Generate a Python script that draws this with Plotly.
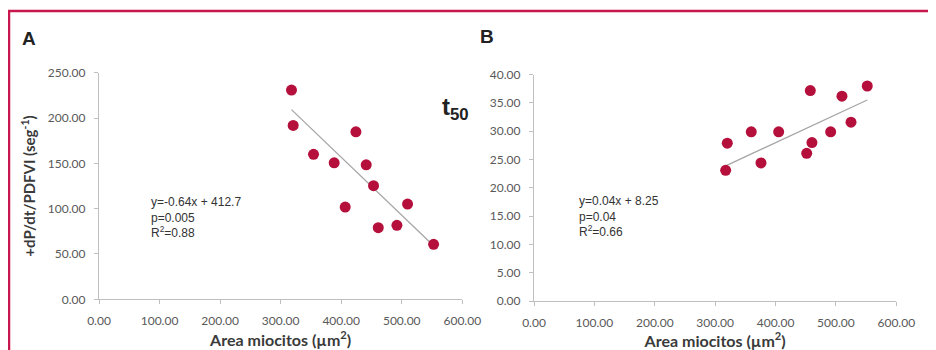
import plotly.graph_objects as go

# ---- data ----
area_a = [317.9, 320.7, 354.3, 388.4, 406.6, 424.3, 441.3, 453.4, 461.2, 492.0, 509.6, 552.6]
dpdt_a = [230.8, 191.8, 159.9, 150.6, 101.8, 184.8, 148.4, 125.3, 79.0, 81.6, 105.1, 60.6]

area_b = [317.4, 320.1, 359.8, 375.9, 405.2, 451.6, 457.6, 460.3, 491.3, 510.0, 525.0, 551.9]
t50_b = [23.1, 27.9, 29.9, 24.4, 29.9, 26.1, 37.2, 28.0, 29.9, 36.2, 31.6, 38.0]

trend_a = {"slope": -0.64, "intercept": 412.7}
trend_b = {"slope": 0.0497, "intercept": 8.1}

stats_a = ["y=-0.64x + 412.7", "p=0.005", "R<sup>2</sup>=0.88"]
stats_b = ["y=0.04x + 8.25", "p=0.04", "R<sup>2</sup>=0.66"]

x_ticks = [0, 100, 200, 300, 400, 500, 600]
y_ticks_a = [0, 50, 100, 150, 200, 250]
y_ticks_b = [0, 5, 10, 15, 20, 25, 30, 35, 40]

RED = "#B5103C"
BORDER = "#C8164E"
AXIS = "#BFBFBF"
TICKC = "#595959"

fig = go.Figure()

def trend_pts(xs, tr):
    x0, x1 = min(xs), max(xs)
    return [x0, x1], [tr["slope"] * x0 + tr["intercept"], tr["slope"] * x1 + tr["intercept"]]

tx, ty = trend_pts(area_a, trend_a)
fig.add_trace(go.Scatter(x=tx, y=ty, mode="lines", line=dict(color="#A6A6A6", width=1.3),
                         xaxis="x", yaxis="y", showlegend=False, hoverinfo="skip"))
fig.add_trace(go.Scatter(x=area_a, y=dpdt_a, mode="markers",
                         marker=dict(color=RED, size=11, line=dict(width=0)),
                         xaxis="x", yaxis="y", showlegend=False))

tx, ty = trend_pts(area_b, trend_b)
fig.add_trace(go.Scatter(x=tx, y=ty, mode="lines", line=dict(color="#A6A6A6", width=1.3),
                         xaxis="x2", yaxis="y2", showlegend=False, hoverinfo="skip"))
fig.add_trace(go.Scatter(x=area_b, y=t50_b, mode="markers",
                         marker=dict(color=RED, size=11, line=dict(width=0)),
                         xaxis="x2", yaxis="y2", showlegend=False))

# page body has an 8px margin; figure fills the rest of the 936x350 window
OFF = 8
W, H = 936 - OFF, 350 - OFF

def px_x(p):
    return (p - OFF) / W

def px_y(p):
    return (H - (p - OFF)) / H

tickfont = dict(family="Lato, Calibri, sans-serif", size=12, color=TICKC)
titlefont = dict(family="Lato, Calibri, sans-serif", size=16, color="#3A3A3A")

def xaxis(domain, anchor):
    return dict(domain=domain, anchor=anchor, range=[0, 600], tickvals=x_ticks,
                ticktext=[f"{v:.2f}" for v in x_ticks], showgrid=False, zeroline=False,
                showline=True, linecolor=AXIS, linewidth=1.3, ticks="outside",
                ticklen=4, tickcolor=AXIS, tickfont=tickfont, ticklabelstandoff=6,
                automargin=False, fixedrange=True,
                title=dict(text="<b>Area miocitos (µm<sup>2</sup>)</b>", font=titlefont, standoff=4))

def yaxis(domain, anchor, rng, vals, title=None):
    d = dict(domain=domain, anchor=anchor, range=rng, tickvals=vals,
             ticktext=[f"{v:.2f}" for v in vals], showgrid=False, zeroline=False,
             showline=True, linecolor=AXIS, linewidth=1.3, ticks="outside",
             ticklen=4, tickcolor=AXIS, tickfont=tickfont, ticklabelstandoff=6,
             automargin=False, fixedrange=True)
    if title:
        d["title"] = dict(text=title, font=dict(family="Lato, Calibri, sans-serif", size=15, color="#3A3A3A"),
                          standoff=8)
    return d

fig.update_layout(
    width=W, height=H, autosize=False,
    margin=dict(l=0, r=0, t=0, b=0),
    paper_bgcolor="white", plot_bgcolor="white",
    template="none",
    xaxis=xaxis([px_x(99), px_x(462.3)], "y"),
    yaxis=yaxis([px_y(299.3), px_y(72.7)], "x", [0, 250], y_ticks_a,
                "<b>+dP/dt/PDFVI (seg<sup>-1</sup>)</b>"),
    xaxis2=xaxis([px_x(534), px_x(896.3)], "y2"),
    yaxis2=yaxis([px_y(301), px_y(74.7)], "x2", [0, 40], y_ticks_b),
)

# red frame
fig.add_shape(type="path", xref="paper", yref="paper",
              path=f"M {px_x(9)},{px_y(360)} L {px_x(9)},{px_y(11)} L {px_x(950)},{px_y(11)}",
              line=dict(color=BORDER, width=2.5))

ann_font = dict(family="Liberation Sans, Arial, sans-serif", size=12, color="#333333")
fig.add_annotation(x=px_x(149), y=px_y(193), xref="paper", yref="paper", xanchor="left", yanchor="top",
                   text="<br>".join(stats_a), showarrow=False, align="left", font=ann_font)
fig.add_annotation(x=px_x(577), y=px_y(192), xref="paper", yref="paper", xanchor="left", yanchor="top",
                   text="<br>".join(stats_b), showarrow=False, align="left", font=ann_font)

label_font = dict(family="Liberation Sans, Arial, sans-serif", size=19, color="#222222")
fig.add_annotation(x=px_x(20), y=px_y(38), xref="paper", yref="paper", xanchor="left", yanchor="middle",
                   text="<b>A</b>", showarrow=False, font=label_font)
fig.add_annotation(x=px_x(478), y=px_y(37), xref="paper", yref="paper", xanchor="left", yanchor="middle",
                   text="<b>B</b>", showarrow=False, font=label_font)
fig.add_annotation(x=px_x(440), y=px_y(108), xref="paper", yref="paper", xanchor="left", yanchor="middle",
                   text="<b>t<sub>50</sub></b>", showarrow=False,
                   font=dict(family="Liberation Sans, Arial, sans-serif", size=24, color="#222222"))

fig.write_html("out.html")
